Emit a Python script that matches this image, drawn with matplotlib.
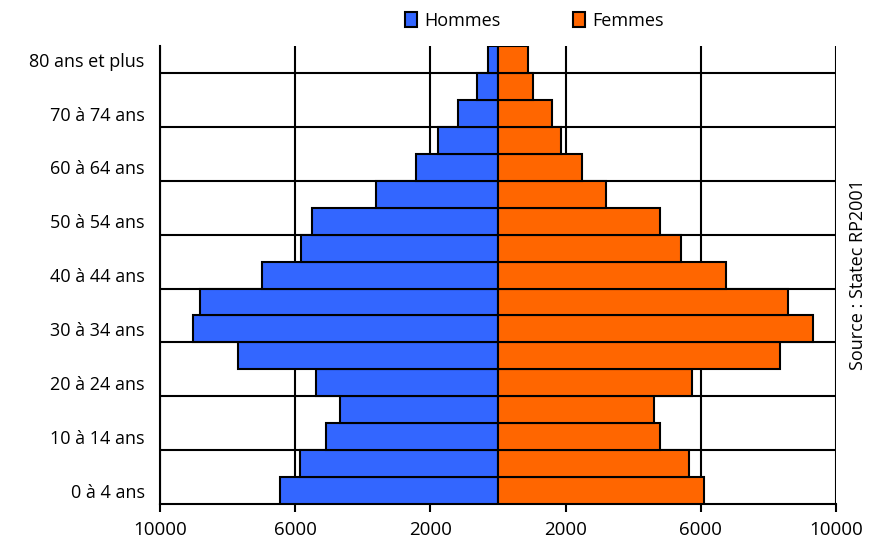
import matplotlib
matplotlib.use("Agg")
import matplotlib.pyplot as plt
import numpy as np
from matplotlib.patches import Patch

plt.rcParams['font.family'] = ['Open Sans', 'DejaVu Sans']

# Age groups, bottom to top
ages = ["0 à 4 ans", "5 à 9 ans", "10 à 14 ans", "15 à 19 ans", "20 à 24 ans",
        "25 à 29 ans", "30 à 34 ans", "35 à 39 ans", "40 à 44 ans", "45 à 49 ans",
        "50 à 54 ans", "55 à 59 ans", "60 à 64 ans", "65 à 69 ans", "70 à 74 ans",
        "75 à 79 ans", "80 ans et plus"]
hommes = [6450, 5860, 5100, 4660, 5390, 7700, 9010, 8820, 6990, 5830,
          5490, 3600, 2420, 1780, 1190, 630, 290]
femmes = [6100, 5640, 4800, 4610, 5750, 8340, 9330, 8580, 6740, 5430,
          4800, 3190, 2480, 1870, 1610, 1050, 890]

blue = "#3366FF"
orange = "#FF6600"

fig = plt.figure(figsize=(8.76, 5.49), dpi=100)
ax = fig.add_axes([0.1826, 0.082, 0.7717, 0.8338])

y = np.arange(len(ages))
ax.barh(y, -np.array(hommes), height=1.0, color=blue, edgecolor="black", linewidth=1.5, zorder=3)
ax.barh(y, femmes, height=1.0, color=orange, edgecolor="black", linewidth=1.5, zorder=3)

ax.set_xlim(-10000, 10000)
ax.set_ylim(-0.5, len(ages) - 0.5)

# gridlines
xt = [-10000, -6000, -2000, 2000, 6000, 10000]
for v in xt:
    ax.axvline(v, color="black", linewidth=1.5, zorder=1)
for g in np.arange(1.5, len(ages) - 1, 2):
    ax.axhline(g, color="black", linewidth=1.5, zorder=1)

ax.set_xticks(xt)
ax.set_xticklabels([str(abs(v)) for v in xt], fontsize=13.5)
ax.tick_params(axis="x", length=6, width=1.5, pad=6)
ax.set_yticks(y[::2])
ax.set_yticklabels(ages[::2], fontsize=13)
ax.tick_params(axis="y", length=0, pad=11)

for s in ["top", "right"]:
    ax.spines[s].set_visible(False)
ax.spines["left"].set_linewidth(1.5)
ax.spines["bottom"].set_linewidth(1.5)

handles = [Patch(facecolor=blue, edgecolor="black", linewidth=1.5),
           Patch(facecolor=orange, edgecolor="black", linewidth=1.5)]
fig.legend(handles, ["Hommes", "Femmes"], loc="upper center", bbox_to_anchor=(0.61, 1.008),
           ncol=2, frameon=False, fontsize=13, handlelength=0.7, handleheight=0.9,
           handletextpad=0.4, columnspacing=4.0)

fig.text(0.979, 0.5, "Source : Statec RP2001", rotation=90, ha="center", va="center", fontsize=13)

fig.savefig("out.png", dpi=100)
